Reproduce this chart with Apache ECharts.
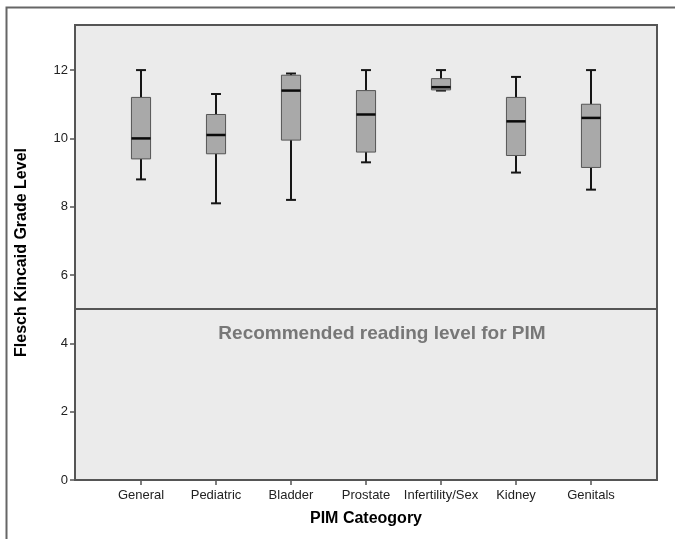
<!DOCTYPE html>
<html>
<head>
<meta charset="utf-8">
<script src="https://cdn.jsdelivr.net/npm/echarts@6/dist/echarts.min.js"></script>
<style>html,body{margin:0;padding:0;background:#fff;}#c{width:675px;height:539px;}</style>
</head>
<body>
<div id="c"></div>
<script>
// ---- data ----
var categories = ['General', 'Pediatric', 'Bladder', 'Prostate', 'Infertility/Sex', 'Kidney', 'Genitals'];
var lows    = [8.8, 8.1, 8.2, 9.3, 11.4, 9.0, 8.5];
var q1s     = [9.4, 9.55, 9.95, 9.6, 11.42, 9.5, 9.15];
var medians = [10.0, 10.1, 11.4, 10.7, 11.5, 10.5, 10.6];
var q3s     = [11.2, 10.7, 11.85, 11.4, 11.75, 11.2, 11.0];
var highs   = [12.0, 11.3, 11.9, 12.0, 12.0, 11.8, 12.0];
var yTicks  = [0, 2, 4, 6, 8, 10, 12];
var yMax = 13.32;
var refLevel = 5;
var refText = 'Recommended reading level for PIM';

var FONT = '"Liberation Sans", Arial, sans-serif';
var boxData = categories.map(function (c, i) {
  return [i, lows[i], q1s[i], medians[i], q3s[i], highs[i]];
});

var chart = echarts.init(document.getElementById('c'), null, {renderer: 'canvas'});
chart.setOption({
  backgroundColor: '#ffffff',
  animation: false,
  graphic: [
    {type: 'rect', shape: {x: 6.5, y: 7.5, width: 720, height: 620},
     style: {fill: 'none', stroke: '#666', lineWidth: 2}, silent: true},
    {type: 'text', x: 382, y: 334, z: 10,
     style: {text: refText, textAlign: 'center', textVerticalAlign: 'middle',
             font: 'bold 19px ' + FONT, fill: '#777'}}
  ],
  grid: [
    {left: 75, right: 18, top: 25, bottom: 59, show: true,
     backgroundColor: '#ebebeb', borderColor: '#555', borderWidth: 2},
    {left: 103.5, right: 46.5, top: 25, bottom: 59}
  ],
  xAxis: [
    {gridIndex: 0, type: 'value', min: 0, max: 1, show: false},
    {gridIndex: 1, type: 'category', data: categories,
     axisLine: {show: false},
     axisTick: {show: true, alignWithLabel: true, interval: 0, length: 5, lineStyle: {color: '#555', width: 1.5}},
     axisLabel: {interval: 0, color: '#222', fontSize: 13, fontFamily: FONT, margin: 9},
     name: 'PIM Cateogory', nameLocation: 'middle', nameGap: 31,
     nameTextStyle: {color: '#000', fontSize: 16, fontWeight: 'bold', fontFamily: FONT,
                     verticalAlign: 'top', padding: 0}}
  ],
  yAxis: [
    {gridIndex: 0, type: 'value', min: 0, max: yMax,
     splitLine: {show: false},
     axisLine: {show: false},
     axisTick: {show: true, length: 5, customValues: yTicks, lineStyle: {color: '#555', width: 1.5}},
     axisLabel: {customValues: yTicks, color: '#222', fontSize: 13, fontFamily: FONT, margin: 7},
     name: 'Flesch Kincaid Grade Level', nameLocation: 'middle', nameGap: 45, nameRotate: 90,
     nameTextStyle: {color: '#000', fontSize: 16, fontWeight: 'bold', fontFamily: FONT}},
    {gridIndex: 1, type: 'value', min: 0, max: yMax, show: false}
  ],
  series: [
    {type: 'line', xAxisIndex: 0, yAxisIndex: 0, data: [], silent: true,
     markLine: {silent: true, symbol: 'none', animation: false,
       data: [{yAxis: refLevel}],
       lineStyle: {color: '#555', width: 2, type: 'solid'},
       label: {show: false}}},
    {type: 'custom', xAxisIndex: 1, yAxisIndex: 1, data: boxData,
     encode: {x: 0, y: [1, 2, 3, 4, 5]},
     renderItem: function (params, api) {
       var x = api.value(0);
       var lo = api.coord([x, api.value(1)]);
       var q1 = api.coord([x, api.value(2)]);
       var md = api.coord([x, api.value(3)]);
       var q3 = api.coord([x, api.value(4)]);
       var hi = api.coord([x, api.value(5)]);
       var bw = api.size([1, 0])[0] * 0.255;
       var cw = bw * 0.52;
       var cx = lo[0];
       var ws = {stroke: '#151515', lineWidth: 2};
       return {type: 'group', children: [
         {type: 'line', shape: {x1: cx, y1: hi[1], x2: cx, y2: q3[1]}, style: ws},
         {type: 'line', shape: {x1: cx, y1: q1[1], x2: cx, y2: lo[1]}, style: ws},
         {type: 'line', shape: {x1: cx - cw / 2, y1: hi[1], x2: cx + cw / 2, y2: hi[1]}, style: ws},
         {type: 'line', shape: {x1: cx - cw / 2, y1: lo[1], x2: cx + cw / 2, y2: lo[1]}, style: ws},
         {type: 'rect', shape: {x: cx - bw / 2, y: q3[1], width: bw, height: q1[1] - q3[1]},
          style: {fill: '#a9a9a9', stroke: '#555', lineWidth: 1}},
         {type: 'line', shape: {x1: cx - bw / 2, y1: md[1], x2: cx + bw / 2, y2: md[1]},
          style: {stroke: '#0a0a0a', lineWidth: 2.5}}
       ]};
     }}
  ]
});
</script>
</body>
</html>
